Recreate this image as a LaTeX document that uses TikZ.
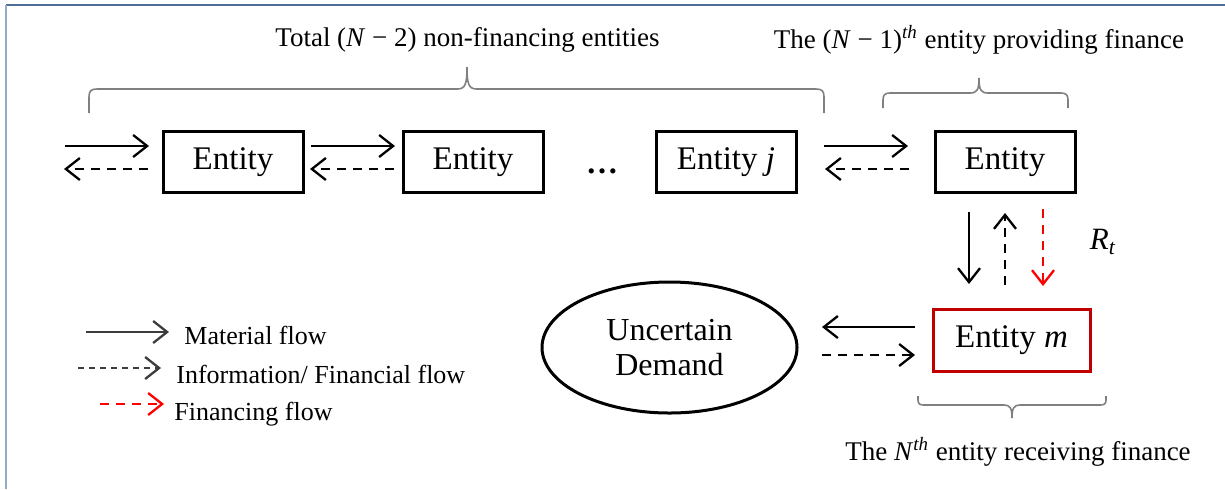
\documentclass[tikz,border=0pt]{standalone}
\usepackage{fontspec}
\setmainfont{Liberation Serif}
\usetikzlibrary{arrows.meta,shapes.geometric}

\definecolor{finred}{RGB}{192,0,0}
\definecolor{frametop}{RGB}{79,109,150}
\definecolor{frameleft}{RGB}{149,170,201}
\definecolor{bracegray}{RGB}{128,128,128}
\definecolor{legendgray}{RGB}{60,60,60}

\tikzset{
  stagebox/.style={draw=black, line width=1.5pt, minimum width=70pt, minimum height=30.5pt,
    inner sep=0pt, font=\fontsize{16.5}{19}\selectfont},
  financedbox/.style={stagebox, draw=finred, minimum width=78.5pt, minimum height=31pt},
  demandnode/.style={ellipse, draw=black, line width=1.5pt, minimum width=127.5pt,
    minimum height=65.5pt, inner sep=0pt, align=center, font=\fontsize{16}{17.5}\selectfont},
  caption/.style={inner sep=0pt, font=\fontsize{13.5}{16}\selectfont},
  legendtext/.style={inner sep=0pt, font=\fontsize{13}{15}\selectfont},
  matflow/.style={line width=1.15pt, -{Straight Barb[length=7pt,width=11pt]}},
  infoflow/.style={matflow, dash pattern=on 4.5pt off 3.5pt},
  finflow/.style={infoflow, red},
  bracket/.style={draw=bracegray, line width=0.8pt},
}

\begin{document}
\begin{tikzpicture}[x=0.5pt, y=-0.5pt]
  \path[use as bounding box] (0,0) rectangle (1225,489);

  % outer frame (top and left edges)
  \draw[frametop, line width=1pt] (6,5) -- (1225,5);
  \draw[frameleft, line width=1.3pt] (6,5) -- (6,489);

  % chain of entities
  \node[stagebox] (e1) at (233,162) {Entity};
  \node[stagebox] (e2) at (473,162) {Entity};
  \node[inner sep=0pt, font=\fontsize{16}{19}\selectfont\bfseries] (dots) at (602,171) {…};
  \node[stagebox] (ej) at (726,162) {Entity \textit{j}};
  \node[stagebox] (ef) at (1005,162) {Entity};
  \node[financedbox] (em) at (1011.5,340) {Entity \textit{m}};
  \node[demandnode] (dem) at (669.5,347.5) {Uncertain\\Demand};

  % arrow end points
  \coordinate (a0s) at (65,146);  \coordinate (a0e) at (149,146);
  \coordinate (b0s) at (148,169); \coordinate (b0e) at (64,169);
  \coordinate (a1s) at (311,146); \coordinate (a1e) at (395,146);
  \coordinate (b1s) at (394,169); \coordinate (b1e) at (310,169);
  \coordinate (a2s) at (824,146); \coordinate (a2e) at (908,146);
  \coordinate (b2s) at (909,169); \coordinate (b2e) at (825,169);
  \coordinate (vds) at (969,212); \coordinate (vde) at (969,284);
  \coordinate (vus) at (1005,285); \coordinate (vue) at (1005,213);
  \coordinate (vrs) at (1043,209); \coordinate (vre) at (1043,286);
  \coordinate (hls) at (915,327); \coordinate (hle) at (822,327);
  \coordinate (hrs) at (822,355); \coordinate (hre) at (915,355);

  % flows along the chain
  \draw[matflow] (a0s) -- (a0e);
  \draw[infoflow] (b0s) -- (b0e);
  \draw[matflow] (a1s) -- (a1e);
  \draw[infoflow] (b1s) -- (b1e);
  \draw[matflow] (a2s) -- (a2e);
  \draw[infoflow] (b2s) -- (b2e);

  % flows between the financing entity and entity m
  \draw[matflow] (vds) -- (vde);
  \draw[infoflow] (vus) -- (vue);
  \draw[finflow] (vrs) -- (vre);
  \node[inner sep=0pt, font=\fontsize{15.5}{18}\selectfont] (rt) at (1103,242) {\textit{R}\textsubscript{\textit{t}}};

  % flows between entity m and demand
  \draw[matflow] (hls) -- (hle);
  \draw[infoflow] (hrs) -- (hre);

  % braces
  \draw[bracket] (89,113) -- (89,97) .. controls (89,91) and (91,89) .. (97,89)
    -- (457,89) .. controls (465,89) and (467,85) .. (467,67)
    .. controls (467,85) and (469,89) .. (477,89)
    -- (816,89) .. controls (822,89) and (824,91) .. (824,97) -- (824,113);
  \draw[bracket] (883,108) -- (883,100) .. controls (883,95) and (885,93) .. (890,93)
    -- (970,93) .. controls (977,93) and (979,90) .. (979,78)
    .. controls (979,90) and (981,93) .. (988,93)
    -- (1061,93) .. controls (1066,93) and (1068,95) .. (1068,100) -- (1068,108);
  \draw[bracket] (918,396) -- (918,400) .. controls (918,404) and (920,405) .. (924,405)
    -- (1004,405) .. controls (1010,405) and (1012,408) .. (1012,418)
    .. controls (1012,408) and (1014,405) .. (1020,405)
    -- (1100,405) .. controls (1104,405) and (1106,404) .. (1106,400) -- (1106,396);

  % captions
  \node[caption] (tot) at (467.5,40) {Total (\textit{N} − 2) non-financing entities};
  \node[caption] (prov) at (979,40) {The (\textit{N} − 1)\textsuperscript{\textit{th}} entity providing finance};
  \node[caption] (recv) at (1018,452) {The \textit{N}\textsuperscript{\textit{th}} entity receiving finance};

  % legend
  \coordinate (l1s) at (86,332);  \coordinate (l1e) at (169,332);
  \coordinate (l2s) at (78,368);  \coordinate (l2e) at (161,368);
  \coordinate (l3s) at (100,404); \coordinate (l3e) at (164,404);
  \draw[matflow, legendgray] (l1s) -- (l1e);
  \draw[matflow, legendgray, dash pattern=on 3pt off 2.5pt] (l2s) -- (l2e);
  \draw[finflow] (l3s) -- (l3e);
  \node[legendtext, anchor=base west] (lt1) at (184,344) {Material flow};
  \node[legendtext, anchor=base west] (lt2) at (176,383) {Information/ Financial flow};
  \node[legendtext, anchor=base west] (lt3) at (174,420) {Financing flow};
\end{tikzpicture}
\end{document}
